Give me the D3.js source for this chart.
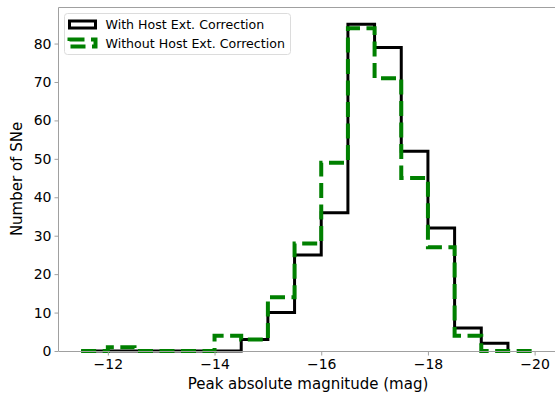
<!DOCTYPE html>
<html><head><meta charset="utf-8">
<script src="https://cdn.jsdelivr.net/npm/d3@7"></script>
<style>body{margin:0;background:#fff}svg{display:block;font-family:"DejaVu Sans",sans-serif}</style>
</head><body><svg id="c" width="555" height="400"></svg>
<script>
// bin edges (mag) and counts
const edgesWith = [-11.5,-12,-12.5,-13,-13.5,-14,-14.5,-15,-15.5,-16,-16.5,-17,-17.5,-18,-18.5,-19,-19.5];
const countsWith = [0,0,0,0,0,0,3,10,25,36,85,79,52,32,6,2];
const edgesWithout = [-11.5,-12,-12.5,-13,-13.5,-14,-14.5,-15,-15.5,-16,-16.5,-17,-17.5,-18,-18.5,-19,-19.5,-20];
const countsWithout = [0,1,0,0,0,4,3,14,28,49,84,71,45,27,4,0,0];
const xTicks = [-12,-14,-16,-18,-20];
const yTicks = [0,10,20,30,40,50,60,70,80];
const seriesNames = ["With Host Ext. Correction","Without Host Ext. Correction"];

const svg = d3.select("#c");
const x = d3.scaleLinear().domain([-11.075,-20.425]).range([58.5,557.3]);
const y = d3.scaleLinear().domain([0,89.25]).range([351,8]);

function stepPath(edges, counts){
  const pts = [[edges[0],0]];
  counts.forEach((c,i)=>{pts.push([edges[i],c]);pts.push([edges[i+1],c]);});
  pts.push([edges[edges.length-1],0]);
  return d3.line().x(d=>x(d[0])).y(d=>y(d[1]))(pts);
}

svg.append("path").attr("d",stepPath(edgesWith,countsWith))
  .attr("fill","none").attr("stroke","#000").attr("stroke-width",3).attr("stroke-linejoin","miter");
svg.append("path").attr("d",stepPath(edgesWithout,countsWithout))
  .attr("fill","none").attr("stroke","#008000").attr("stroke-width",4)
  .attr("stroke-dasharray","15,6.5").attr("stroke-linejoin","miter");

// spines
const sp = "#a0a0a0";
svg.append("line").attr("x1",58.5).attr("x2",58.5).attr("y1",7.5).attr("y2",351).attr("stroke",sp);
svg.append("line").attr("x1",58.5).attr("x2",555).attr("y1",7.5).attr("y2",7.5).attr("stroke",sp);
svg.append("line").attr("x1",58.5).attr("x2",555).attr("y1",351.5).attr("y2",351.5).attr("stroke",sp);

const xa = svg.append("g").attr("transform","translate(0,351.5)")
  .call(d3.axisBottom(x).tickValues(xTicks).tickSize(4).tickPadding(4).tickFormat(d3.format("d")));
xa.select(".domain").remove();
xa.selectAll("line").attr("stroke",sp);
xa.selectAll("text").attr("font-size",14).attr("fill","#000").attr("font-family","DejaVu Sans");

const ya = svg.append("g").attr("transform","translate(58.5,0)")
  .call(d3.axisLeft(y).tickValues(yTicks).tickSize(4).tickPadding(3));
ya.select(".domain").remove();
ya.selectAll("line").attr("stroke",sp);
ya.selectAll("text").attr("font-size",14).attr("fill","#000").attr("font-family","DejaVu Sans");

svg.append("text").attr("x",308).attr("y",389).attr("text-anchor","middle")
  .attr("font-size",15).text("Peak absolute magnitude (mag)");
svg.append("text").attr("transform","translate(22,179) rotate(-90)").attr("text-anchor","middle")
  .attr("font-size",15).text("Number of SNe");

// legend
const lg = svg.append("g");
lg.append("rect").attr("x",64.5).attr("y",13.5).attr("width",226).attr("height",41).attr("rx",3)
  .attr("fill","#fff").attr("fill-opacity",0.8).attr("stroke","#dcdcdc");
lg.append("rect").attr("x",69.5).attr("y",21).attr("width",26).attr("height",7)
  .attr("fill","none").attr("stroke","#000").attr("stroke-width",3);
lg.append("rect").attr("x",69.5).attr("y",39.5).attr("width",26).attr("height",7)
  .attr("fill","none").attr("stroke","#008000").attr("stroke-width",4).attr("stroke-dasharray","15,6.5");
lg.selectAll("text.l").data(seriesNames).join("text").attr("class","l")
  .attr("x",105.5).attr("y",(d,i)=>29+i*18.5).attr("font-size",12.6).text(d=>d);
</script></body></html>
